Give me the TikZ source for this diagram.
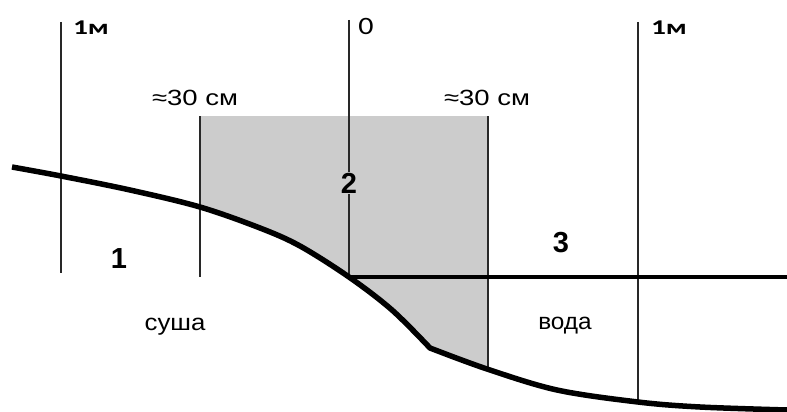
\documentclass[tikz,border=0pt]{standalone}
\usepackage{fontspec}
\setmainfont{Liberation Sans}
\newfontfamily\calib{Carlito}
\definecolor{shadegray}{RGB}{204,204,204}
\definecolor{thinline}{RGB}{40,40,40}
\begin{document}
\begin{tikzpicture}[x=1pt,y=-1pt,
  vline/.style={draw=thinline, line width=1.4pt},
  ground/.style={draw=black, line width=5.5pt, line join=round},
  water/.style={draw=black, line width=3.2pt},
  dimlab/.style={font=\fontsize{22}{24}\selectfont, inner sep=0pt, anchor=base},
  numlab/.style={font=\fontsize{29}{30}\selectfont\bfseries, inner sep=0pt, anchor=base},
  wordlab/.style={font=\fontsize{23}{24}\selectfont, inner sep=0pt, anchor=base},
  meterlab/.style={font=\calib\bfseries\fontsize{21}{22}\selectfont, inner sep=0pt, anchor=base},
  zerolab/.style={font=\calib\fontsize{25}{26}\selectfont, inner sep=0pt, anchor=base}]
\useasboundingbox (0,0) rectangle (787,412);
% shaded zone
\begin{scope}
\clip (200,116) rectangle (488,420);
\fill[shadegray] plot[smooth,tension=0.55] coordinates {(12,167) (61,176) (130,190) (200,207) (260,228) (300,246) (349,277) (392,310) (430,348)}
  -- plot[smooth,tension=0.55] coordinates {(430,348) (487,369) (557,390) (638,402) (700,407) (787,410)}
  -- (787,0) -- (0,0) -- cycle;
\end{scope}
% coordinates
\coordinate (Ltop) at (61,22);   \coordinate (Lbot) at (61,273);
\coordinate (Mtop) at (349,20);  \coordinate (Mbot) at (349,277);
\coordinate (Rtop) at (638,22);  \coordinate (Rbot) at (638,402);
\coordinate (Atop) at (200,116); \coordinate (Abot) at (200,277);
\coordinate (Btop) at (488,116); \coordinate (Bbot) at (488,369);
\coordinate (Wend) at (787,277);
% vertical lines
\draw[vline] (Ltop) -- (Lbot);
\draw[vline] (Mtop) -- (Mbot);
\draw[vline] (Rtop) -- (Rbot);
\draw[vline] (Atop) -- (Abot);
\draw[vline] (Btop) -- (Bbot);
% water line
\draw[water] (Mbot) -- (Wend);
% ground
\draw[ground] plot[smooth,tension=0.55] coordinates {(12,167) (61,176) (130,190) (200,207) (260,228) (300,246) (349,277) (392,310) (430,348)}
  -- plot[smooth,tension=0.55] coordinates {(430,348) (487,369) (557,390) (638,402) (700,407) (787,410)};
% labels
\node[meterlab] (m1) at (91,35) {\scalebox{1.4}[1]{1м}};
\node[zerolab] (zero) at (366,35) {\scalebox{1.2}[1]{0}};
\node[meterlab] (m2) at (669,35) {\scalebox{1.4}[1]{1м}};
\node[dimlab] (d1) at (195,105) {\scalebox{1.25}[1]{≈30 см}};
\node[dimlab] (d2) at (487,105) {\scalebox{1.25}[1]{≈30 см}};
\node[numlab] (n1) at (119,268) {1};
\node[numlab, fill=shadegray, inner sep=1pt] (n2) at (349,193) {2};
\node[numlab] (n3) at (561,252) {3};
\node[wordlab] (land) at (175,330) {\scalebox{1.12}[1]{суша}};
\node[wordlab] (water) at (565,329) {\scalebox{1.06}[1]{вода}};
\end{tikzpicture}
\end{document}
